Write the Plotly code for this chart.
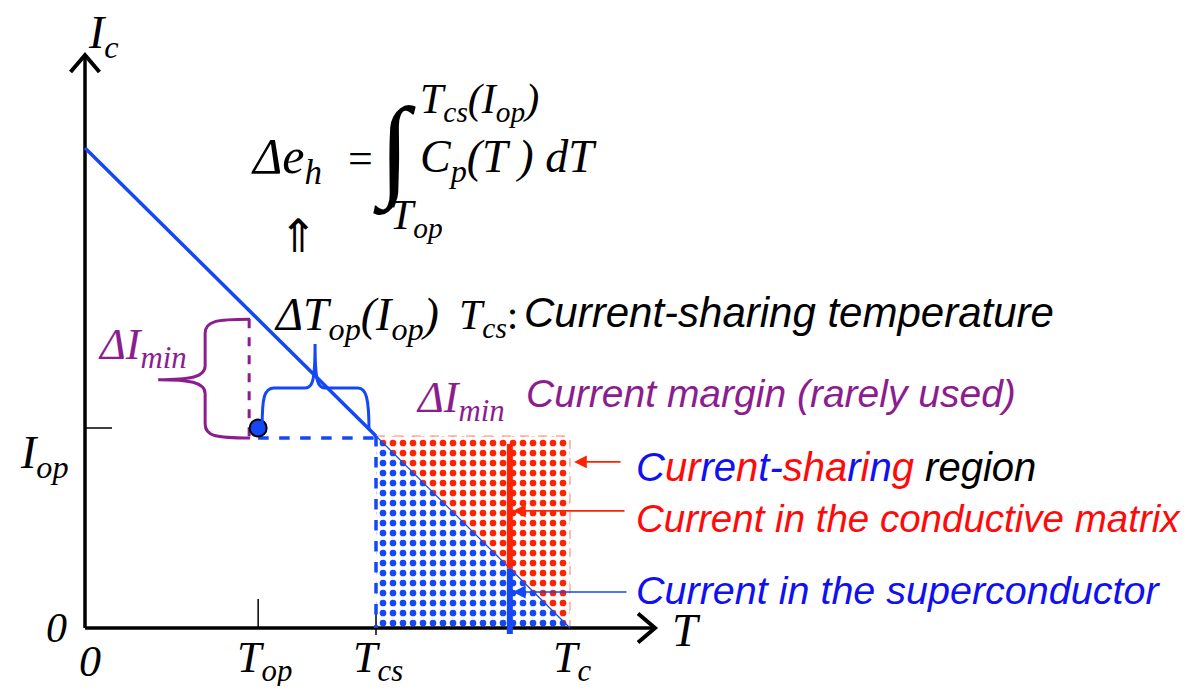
import plotly.graph_objects as go

# ---------------- data (schematic, normalised units) ----------------
T_ticks = [0.0, 0.357, 0.6, 1.0]          # 0, T_op, T_cs, T_c
T_tick_labels = ["<i>0</i>", "<i>T<sub>op</sub></i>", "<i>T<sub>cs</sub></i>", "<i>T<sub>c</sub></i>"]
I_c0 = 1.0                                # critical current at T = 0
I_op = 0.4                                # operating current
T_op, T_cs, T_c = T_ticks[1], T_ticks[2], T_ticks[3]
T_mark = 0.876                            # temperature where current split is shown
line_T = [0.0, T_cs, T_c]
line_I = [I_c0, I_op, 0.0]

def Ic(T):
    return I_c0 * (1 - T / T_c)

# ---------------- pixel <-> data mapping (page pixels; body has 8px margin) ----------------
BODY = 8
W, H = 1196 - 2 * BODY, 694 - 2 * BODY
OX, OY, SX, SY = 85, 628, 485, 480
def p2d(px, py):
    return (px - OX) / SX, (OY - py) / SY
def d2p(T, I):
    return OX + T * SX, OY - I * SY

BLUE = "#1447f5"
BLUE_T = "#1010f0"
RED = "#ff2200"
RED_T = "#ff0a0a"
PURPLE = "#8c1d8f"
SERIF = "Liberation Serif, Times New Roman, serif"
SANS = "Liberation Sans, Arial, sans-serif"

fig = go.Figure()

def seg(xs, ys, color, width, dash="solid"):
    fig.add_trace(go.Scatter(x=xs, y=ys, mode="lines", line=dict(color=color, width=width, dash=dash),
                             hoverinfo="skip", showlegend=False))

# hatched current-sharing region (below line = superconductor, above = matrix)
for xs, ys, col in [([T_cs, T_cs, T_c, T_cs], [I_op, 0, 0, I_op], BLUE),
                    ([T_cs, T_c, T_c, T_cs], [I_op, I_op, 0, I_op], RED)]:
    fig.add_trace(go.Scatter(x=xs, y=ys, fill="toself", mode="lines",
                             line=dict(width=0, color=col), fillcolor="white",
                             fillpattern=dict(shape=".", fgcolor=col, bgcolor="white", fgopacity=1,
                                              fillmode="replace", size=10, solidity=0.35),
                             hoverinfo="skip", showlegend=False))
seg([T_cs, T_c, T_c], [I_op, I_op, 0], "#ff8070", 1, "dash")

# axes
x_end = p2d(655, 0)[0]
y_end = p2d(0, 55)[1]
seg([0, x_end], [0, 0], "black", 3.5)
seg([0, 0], [0, y_end], "black", 3.5)
ax_, ay_ = 17 / SX, 17 / SY
seg([x_end - ax_, x_end, x_end - ax_], [ay_ * 0.85, 0, -ay_ * 0.85], "black", 4)
seg([-ax_ * 0.85, 0, ax_ * 0.85], [y_end - ay_, y_end, y_end - ay_], "black", 4)

# ticks
seg([T_op, T_op], [0, 29 / SY], "black", 1.5)
seg([T_cs, T_cs], [-7 / SY, 21 / SY], "black", 1.5)
seg([0, 27 / SX], [I_op + 8 / SY, I_op + 8 / SY], "black", 1.5)

# critical current line
seg(line_T[:2], line_I[:2], BLUE, 3.5)
seg(line_T[1:], line_I[1:], BLUE, 1.2)

# dashed lines
seg([T_op, T_cs], [I_op - 2 / SY, I_op - 2 / SY], BLUE, 3.5, "dash")
seg([T_cs, T_cs], [I_op, 0], BLUE, 3.5, "dash")
seg([T_op - 9 / SX, T_op - 9 / SX], [Ic(T_op), I_op - 8 / SY], PURPLE, 3, "dash")

# current split at T_mark
seg([T_mark, T_mark], [Ic(T_mark), I_op - 8 / SY], RED, 6)
seg([T_mark, T_mark], [-6 / SY, Ic(T_mark)], BLUE, 6)

# operating point
fig.add_trace(go.Scatter(x=[T_op], y=[I_op + 8 / SY], mode="markers",
                         marker=dict(size=17, color=BLUE, line=dict(color="black", width=2)),
                         hoverinfo="skip", showlegend=False))

# braces (built in pixel space from data anchors, converted to data)
def path_from_px(cmds):
    out = []
    for c in cmds:
        if isinstance(c, str):
            out.append(c)
        else:
            x, y = p2d(*c)
            out.append(f"{x:.5f},{y:.5f}")
    return " ".join(out)

px_top = d2p(T_op, Ic(T_op))
px_bot = d2p(T_op, I_op)
xr = px_top[0] - 8
yt, yb = px_top[1], px_bot[1] + 2
ym = (yt + yb) / 2 + 1
xv, xt = xr - 45, xr - 92
purple_path = path_from_px(["M", (xr, yt), "C", (xv + 10, yt), (xv, yt + 2), (xv, yt + 14),
                            "L", (xv, ym - 14), "C", (xv, ym - 2), (xt + 30, ym), (xt, ym),
                            "C", (xt + 30, ym), (xv, ym + 2), (xv, ym + 14),
                            "L", (xv, yb - 14), "C", (xv, yb - 2), (xv + 10, yb), (xr, yb)])
fig.add_shape(type="path", path=purple_path, xref="x", yref="y", line=dict(color=PURPLE, width=3))

bl = d2p(T_op, I_op)[0] + 4
br = d2p(T_cs, I_op)[0] - 8
yl = d2p(0, I_op)[1] - 10
yh = yl - 38
xm = (bl + br) / 2
ytip = yh - 44
blue_path = path_from_px(["M", (bl, yl), "C", (bl, yh + 10), (bl + 2, yh), (bl + 12, yh),
                          "L", (xm - 10, yh), "C", (xm - 3, yh), (xm, yh - 5), (xm, ytip),
                          "C", (xm, yh - 5), (xm + 3, yh), (xm + 10, yh),
                          "L", (br - 10, yh), "C", (br - 2, yh), (br + 1, yh + 10), (br + 1, yl + 4)])
fig.add_shape(type="path", path=blue_path, xref="x", yref="y", line=dict(color=BLUE, width=3))

# ---------------- text ----------------
def txt(px, py, text, size, color="black", family=SERIF, xanchor="left"):
    x, y = p2d(px, py)
    fig.add_annotation(x=x, y=y, text=text, showarrow=False, xanchor=xanchor, yanchor="middle",
                       font=dict(family=family, size=size, color=color))

# axis labels
txt(86, 36, "<i>I<sub>c</sub></i>", 46)
txt(686, 630, "<i>T</i>", 46, xanchor="center")
txt(56, 628, "<i>0</i>", 42, xanchor="center")
txt(18, 456, "<i>I<sub>op</sub></i>", 46)
tick_px = [(90, 661), (264, 660), (378, 660), (572, 660)]
for (px, py), lab in zip(tick_px, T_tick_labels):
    txt(px, py, lab, 44, xanchor="center")

# energy-margin formula
txt(249, 160, "<i>Δe<sub>h</sub></i>", 50)
txt(346, 158, "=", 44)
txt(394, 150, "<b>∫</b>", 112, xanchor="center")
txt(418, 102, "<i>T<sub>cs</sub>(I<sub>op</sub>)</i>", 42)
txt(418, 160, "<i>C<sub>p</sub>(T ) dT</i>", 46)
txt(388, 218, "<i>T<sub>op</sub></i>", 42)
txt(298, 236, "⇑", 46, xanchor="center")

txt(272, 318, "<i>ΔT<sub>op</sub>(I<sub>op</sub>)</i>", 46)
txt(457, 318, "<i>T<sub>cs</sub></i>:", 42)
txt(522, 312, "<i>Current-sharing temperature</i>", 42, family=SANS)

txt(414, 400, "<i>ΔI<sub>min</sub></i>", 44, color=PURPLE)
txt(524, 393, "<i>Current margin (rarely used)</i>", 39, color=PURPLE, family=SANS)
txt(96, 347, "<i>ΔI<sub>min</sub></i>", 44, color=PURPLE)

def colored(word, colors):
    return "".join(f"<span style='color:{c}'>{ch}</span>" for ch, c in zip(word, colors))
b, r = BLUE_T, RED_T
cs = colored("Current-sharing", [b, r, r, b, b, r, b, b, r, r, r, b, r, b, r])
txt(634, 467, f"<i>{cs} region</i>", 40, family=SANS)
txt(634, 518, "<i>Current in the conductive matrix</i>", 38.5, color=RED_T, family=SANS)
txt(634, 590, "<i>Current in the superconductor</i>", 39.5, color=BLUE_T, family=SANS)

# pointer arrows
def arrow(tip, tail, color):
    fig.add_annotation(x=tip[0], y=tip[1], ax=tail[0], ay=tail[1], xref="x", yref="y", axref="x", ayref="y",
                       text="", showarrow=True, arrowhead=2, arrowsize=1.6, arrowwidth=1.6, arrowcolor=color)
arrow((T_c + 4 / SX, 0.346), (p2d(622, 0)[0], 0.346), RED)
arrow((T_mark + 3 / SX, 0.244), (p2d(626, 0)[0], 0.244), RED)
arrow((T_mark + 3 / SX, 0.075), (p2d(628, 0)[0], 0.075), BLUE)

# figure area starts at page pixel (BODY, BODY)
x0, y0 = p2d(BODY, BODY + H)
x1, y1 = p2d(BODY + W, BODY)
fig.update_layout(width=W, height=H, margin=dict(l=0, r=0, t=0, b=0), paper_bgcolor="white",
                  plot_bgcolor="white", showlegend=False,
                  xaxis=dict(range=[x0, x1], visible=False, fixedrange=True),
                  yaxis=dict(range=[y0, y1], visible=False, fixedrange=True))
fig.write_html("out.html")
